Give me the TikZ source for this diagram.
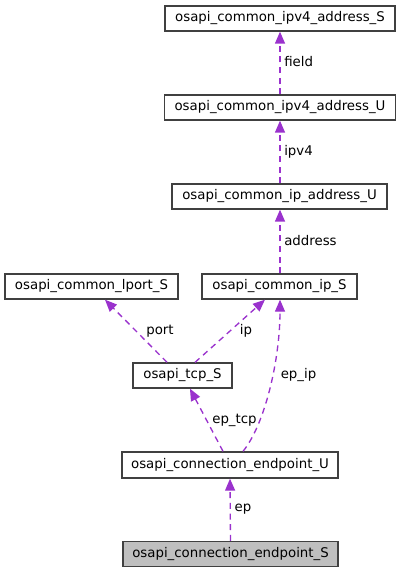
\documentclass[tikz,border=0pt]{standalone}
\usepackage{fontspec}
\setmainfont{DejaVu Sans}
\usetikzlibrary{arrows.meta}
\definecolor{edgec}{HTML}{9A32CD}
\definecolor{boxc}{HTML}{404040}
\begin{document}
\begin{tikzpicture}[x=0.75pt,y=-0.75pt,
  box/.style={draw=boxc,line width=1pt,inner sep=0pt,minimum height=18.75pt,font=\fontsize{10pt}{12pt}\selectfont,fill=white},
  edge/.style={draw=edgec,line width=1pt,dash pattern=on 4.5pt off 3.5pt,-{Triangle[length=9pt,width=7.5pt,fill=edgec]}},
  lbl/.style={font=\fontsize{10pt}{12pt}\selectfont,inner sep=0pt}]
\useasboundingbox (0,0) rectangle (401,573);
\node[box,minimum width=172.5pt] (ipv4S) at (280,18.5) {osapi\_common\_ipv4\_address\_S};
\node[box,minimum width=173.25pt] (ipv4U) at (280,107.5) {osapi\_common\_ipv4\_address\_U};
\node[box,minimum width=161.25pt] (ipaddrU) at (279.5,196.5) {osapi\_common\_ip\_address\_U};
\node[box,minimum width=129.75pt] (lportS) at (91.5,286.5) {osapi\_common\_lport\_S};
\node[box,minimum width=116.25pt] (ipS) at (279.5,286.5) {osapi\_common\_ip\_S};
\node[box,minimum width=74.25pt] (tcpS) at (182.5,375.5) {osapi\_tcp\_S};
\node[box,minimum width=162pt,minimum height=19.5pt] (epU) at (230,465) {osapi\_connection\_endpoint\_U};
\node[box,minimum width=161.25pt,fill={rgb,255:red,191;green,191;blue,191}] (epS) at (230.5,554) {osapi\_connection\_endpoint\_S};

\draw[edge] (ipv4U.north) -- (ipv4S.south);
\draw[edge] ([xshift=0.375pt]ipaddrU.north) -- (ipv4U.south);
\draw[edge] ([xshift=0.375pt]ipS.north) -- ([xshift=0.375pt]ipaddrU.south);
\draw[edge] ([xshift=-11.6pt]tcpS.north) -- ([xshift=10.1pt]lportS.south);
\draw[edge] ([xshift=9.4pt]tcpS.north) -- ([xshift=-10.9pt]ipS.south);
\draw[edge] ([xshift=-5.25pt]epU.north) -- ([xshift=5.6pt]tcpS.south);
\draw[edge] ([xshift=9.75pt]epU.north) .. controls +(22,-27) and +(0,60) .. ([xshift=0.375pt]ipS.south);
\draw[edge] (epS.north) -- (epU.south);

\node[lbl,anchor=west] (lfield) at (284,62) {field};
\node[lbl,anchor=west] (lipv4) at (284,152) {ipv4};
\node[lbl,anchor=west] (laddr) at (284,241) {address};
\node[lbl] (lport) at (160,331) {port};
\node[lbl] (lip) at (246,331) {ip};
\node[lbl] (lepip) at (298.5,375) {ep\_ip};
\node[lbl] (leptcp) at (234.5,420) {ep\_tcp};
\node[lbl] (lep) at (243,509) {ep};
\end{tikzpicture}
\end{document}
